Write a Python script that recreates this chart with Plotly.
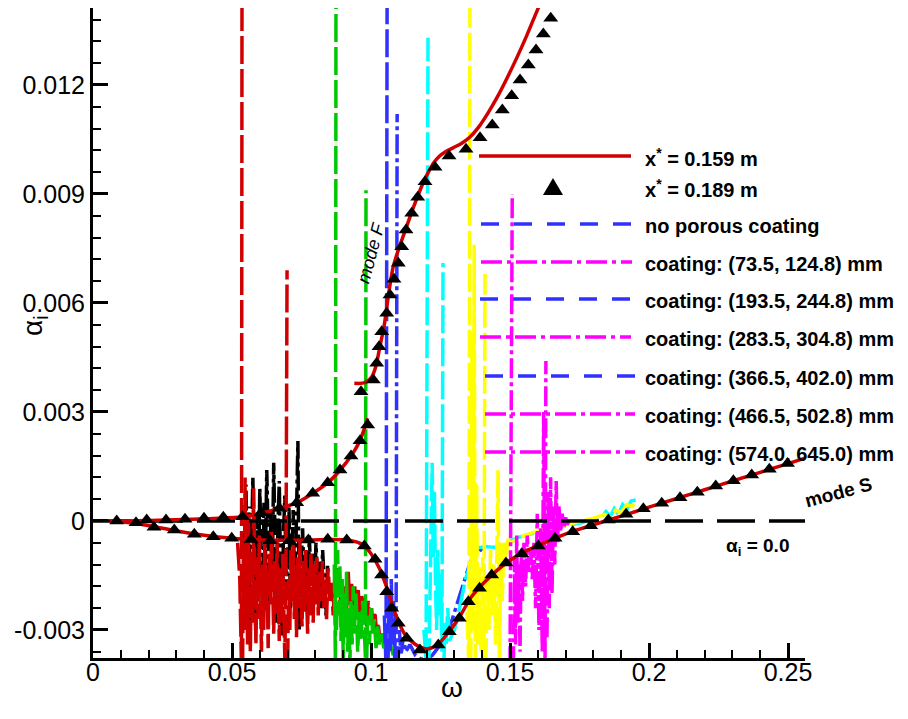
import plotly.graph_objects as go

# ---------------- axis ticks ----------------
x_ticks = [0, 0.05, 0.1, 0.15, 0.2, 0.25]
x_tick_labels = ["0", "0.05", "0.1", "0.15", "0.2", "0.25"]
y_ticks = [-0.003, 0, 0.003, 0.006, 0.009, 0.012]
y_tick_labels = ["-0.003", "0", "0.003", "0.006", "0.009", "0.012"]
x_range = [0, 0.2561]
y_range = [-0.003771, 0.014119]

# ---------------- x* = 0.159 m (solid red) ----------------
modeS_w = [0.006, 0.015, 0.025, 0.035, 0.045, 0.055, 0.065, 0.075, 0.085, 0.092,
           0.097, 0.100, 0.103, 0.106, 0.109, 0.112, 0.116, 0.120, 0.124, 0.128,
           0.132, 0.136, 0.140, 0.145, 0.150, 0.155, 0.160, 0.166, 0.172, 0.179,
           0.185, 0.192, 0.200, 0.210, 0.220, 0.230, 0.240, 0.250, 0.2561]
modeS_a = [0.0, -0.00006, -0.0002, -0.00034, -0.00044, -0.0005, -0.00053, -0.00053, -0.00051, -0.00053,
           -0.00065, -0.0009, -0.0013, -0.0019, -0.0026, -0.0031, -0.0034, -0.00352, -0.0034, -0.00305,
           -0.00262, -0.0021, -0.00175, -0.00138, -0.00108, -0.00085, -0.00068, -0.00048, -0.0003, -0.00013,
           0.00002, 0.00018, 0.00038, 0.00062, 0.00086, 0.0011, 0.00134, 0.00158, 0.00173]

modeF_low_w = [0.0061, 0.0205, 0.0385, 0.0529, 0.0608, 0.0673, 0.0734, 0.0791, 0.0845, 0.0889,
               0.0928, 0.0960, 0.0988]
modeF_low_a = [0.0, 0.000014, 0.000055, 0.00011, 0.00022, 0.00035, 0.000504, 0.000762, 0.001054, 0.001404,
               0.001789, 0.00221, 0.002826]

modeF_high_w = [0.0940, 0.0978, 0.1003, 0.1017, 0.1032, 0.1047, 0.1080, 0.1128, 0.1160, 0.1185,
                0.1205, 0.1225, 0.1245, 0.1268, 0.1295, 0.1325, 0.1355, 0.1385, 0.1420, 0.1455,
                0.1490, 0.1525, 0.1560, 0.1595, 0.1620]
modeF_high_a = [0.00379, 0.003806, 0.003972, 0.004247, 0.004797, 0.005367, 0.006999, 0.0081, 0.00878, 0.00926,
                0.00958, 0.00985, 0.01003, 0.01016, 0.01027, 0.01039, 0.01056, 0.01082, 0.01122, 0.01168,
                0.01220, 0.01276, 0.01336, 0.01400, 0.01445]

# ---------------- x* = 0.189 m (triangles) ----------------
tri_w = [0.00853, 0.01547, 0.02194, 0.02924, 0.03644, 0.04327, 0.04989, 0.05683, 0.06367, 0.07061,
         0.07745, 0.08442, 0.09126, 0.09759, 0.10144, 0.10378, 0.10565, 0.10745, 0.10982, 0.11284,
         0.11763, 0.12421, 0.12817, 0.13176, 0.13500, 0.13903, 0.14342, 0.14856, 0.15421, 0.16018,
         0.16619, 0.17255, 0.17903, 0.18536, 0.19173, 0.19795, 0.20457, 0.21115, 0.21737, 0.22399,
         0.23033, 0.23694, 0.24327, 0.24982,
         0.01932, 0.02626, 0.03309, 0.03993, 0.04687, 0.05378, 0.06043, 0.06701, 0.07327, 0.07903,
         0.08442, 0.08885, 0.09281, 0.09604, 0.09881,
         0.09640, 0.10083, 0.10205, 0.10288, 0.10385, 0.10565, 0.10683, 0.10827, 0.10982, 0.11104,
         0.11259, 0.11464, 0.11680, 0.11942, 0.12302, 0.12806, 0.13417, 0.13921, 0.14363, 0.14723,
         0.15061, 0.15360, 0.15658, 0.15935, 0.16198, 0.16464]
tri_a = [0.0, -0.000047, -0.000173, -0.000248, -0.000366, -0.000432, -0.000476, -0.000509, -0.000542, -0.000542,
         -0.000523, -0.000504, -0.000523, -0.000688, -0.001054, -0.001486, -0.001946, -0.002403, -0.002816, -0.003229,
         -0.00355, -0.003413, -0.003047, -0.002678, -0.002221, -0.001852, -0.001486, -0.001156, -0.0009, -0.000688,
         -0.000476, -0.000294, -0.000129, 0.000028, 0.000184, 0.000336, 0.000487, 0.000641, 0.00079, 0.000963,
         0.001109, 0.001266, 0.001423, 0.001583,
         0.000028, 0.000028, 0.000047, 0.000074, 0.000102, 0.000118, 0.000228, 0.00035, 0.000504, 0.000762,
         0.001054, 0.001404, 0.001789, 0.00221, 0.002642,
         0.003559, 0.003881, 0.00434, 0.004797, 0.00521, 0.005717, 0.00622, 0.006652, 0.007093, 0.00755,
         0.008009, 0.008469, 0.008909, 0.009339, 0.009735, 0.010046, 0.01023, 0.01055, 0.010899, 0.011312,
         0.011706, 0.012138, 0.01255, 0.012963, 0.013404, 0.013836]

# ---------------- alpha_i = 0.0 ----------------
zero_w = [0.0, 0.2561]
zero_a = [0.0, 0.0]

# ---------------- noisy porous-coating results (None = curve leaves the frame) ----------------
red_noise_w = [0.0520, 0.0528, 0.0534, 0.0536, None, 0.0538, 0.0541, 0.0544, 0.0547, 0.0550, 0.0553,
               0.0556, 0.0559, 0.0562, 0.0566, 0.0570, 0.0574, 0.0578, 0.0582, 0.0586, 0.0590,
               0.0594, 0.0598, 0.0602, 0.0606, 0.0610, 0.0614, 0.0618, 0.0622, 0.0626, 0.0630,
               0.0634, 0.0638, 0.0642, 0.0646, 0.0650, 0.0654, 0.0658, 0.0662, 0.0666, 0.0670,
               0.0674, 0.0678, 0.0682, 0.0686, 0.0690, 0.0694, 0.0698, None, 0.0700, 0.0704, 0.0708,
               0.0712, 0.0716, 0.0720, 0.0724, 0.0728, 0.0732, 0.0736, 0.0740, 0.0744, 0.0748,
               0.0752, 0.0756, 0.0760, 0.0764, 0.0768, 0.0772, 0.0776, 0.0780, 0.0784, 0.0788,
               0.0792, 0.0796, 0.0800, 0.0805, 0.0810, 0.0815, 0.0820, 0.0825, 0.0830, 0.0835,
               0.0840, 0.0846, 0.0852, 0.0858, 0.0864, 0.0870, 0.0876, 0.0882, 0.0888, 0.0894,
               0.0900, 0.0906, 0.0912, 0.0918, 0.0924, 0.0930, 0.0936, 0.0942, 0.0948, 0.0954,
               0.0960, 0.0966, 0.0972, 0.0978, 0.0984, 0.0990, 0.0996, 0.1002, 0.1008, 0.1014,
               0.1020, 0.1026, 0.1032, 0.1040, 0.1048, 0.1056, 0.1065]
red_noise_a = [-0.0006, -0.0016, -0.0040, 0.0150, None, -0.0040, -0.0008, -0.0026, 0.0012, -0.0030, -0.0012,
               -0.0034, 0.0002, -0.0022, -0.0036, -0.0008, -0.0028, 0.0009, -0.0018, -0.0034, -0.0010,
               -0.0027, -0.0004, -0.0021, -0.0036, -0.0012, -0.0030, -0.0006, -0.0025, -0.0014, -0.0035,
               -0.0009, -0.0023, -0.0003, -0.0019, -0.0031, -0.0011, -0.0026, -0.0005, -0.0021, -0.0033,
               -0.0013, -0.0028, -0.0009, -0.0024, -0.0038, -0.0015, 0.0069, None, -0.0040, -0.0016, -0.0030,
               -0.0008, -0.0022, -0.0006, -0.0027, -0.0012, -0.0032, -0.0010, -0.0024, -0.0005, -0.0019,
               -0.0029, -0.0011, -0.0025, -0.0008, -0.0021, -0.0031, -0.0013, -0.0026, -0.0009, -0.0020,
               -0.0028, -0.0012, -0.0023, -0.0010, -0.0026, -0.0014, -0.0022, -0.0011, -0.0024, -0.0016,
               -0.0027, -0.0013, -0.0022, -0.0017, -0.0026, -0.0015, -0.0021, -0.0013, -0.0024, -0.0016,
               -0.0027, -0.0018, -0.0025, -0.0014, -0.0023, -0.0017, -0.0026, -0.0018, -0.0024, -0.0019,
               -0.0028, -0.0020, -0.0026, -0.0021, -0.0029, -0.0022, -0.0027, -0.0024, -0.0030, -0.0025,
               -0.0031, -0.0028, -0.0033, -0.0031, -0.0034, -0.0033, -0.0035]

black_noise_w = [0.0545, 0.0550, 0.0555, 0.0560, 0.0565, 0.0570, 0.0575, 0.0580, 0.0585, 0.0590,
                 0.0595, 0.0600, 0.0605, 0.0610, 0.0615, 0.0620, 0.0625, 0.0630, 0.0635, 0.0640,
                 0.0645, 0.0650, 0.0655, 0.0660, 0.0665, 0.0670, 0.0675, 0.0680, 0.0685, 0.0690,
                 0.0695, 0.0700, 0.0705, 0.0710, 0.0715, 0.0720, 0.0725, 0.0730, 0.0737, 0.0742,
                 0.0748, 0.0754, 0.0760, 0.0766, 0.0772, 0.0778, 0.0784, 0.0790, 0.0796, 0.0802,
                 0.0808, 0.0814, 0.0820, 0.0826, 0.0832, 0.0838, 0.0844]
black_noise_a = [-0.0006, 0.0010, -0.0015, 0.0004, -0.0028, -0.0002, 0.0012, -0.0010, -0.0030, 0.0002,
                 -0.0018, 0.0009, -0.0008, -0.0026, 0.0005, -0.0012, 0.0014, -0.0004, -0.0022, 0.0003,
                 -0.0014, 0.0016, -0.0006, -0.0028, -0.0002, 0.0011, -0.0016, -0.0032, -0.0004, 0.0007,
                 -0.0020, -0.0008, 0.0004, -0.0024, -0.0010, 0.0003, -0.0018, -0.0006, 0.0022, -0.0030,
                 -0.0012, -0.0002, -0.0020, -0.0008, -0.0026, -0.0004, -0.0016, -0.0009, -0.0022, -0.0006,
                 -0.0018, -0.0011, -0.0024, -0.0008, -0.0017, -0.0026, -0.0012]

green_noise_w = [0.0868, 0.0872, 0.0874, None, 0.0876, 0.0880, 0.0884, 0.0888, 0.0892, 0.0896, 0.0900,
                 0.0904, 0.0908, 0.0912, 0.0916, 0.0920, 0.0924, 0.0928, 0.0932, 0.0936, 0.0940,
                 0.0946, 0.0952, 0.0958, 0.0964, 0.0970, 0.0976, 0.0980, 0.0982, None, 0.0984, 0.0988,
                 0.0994, 0.1000, 0.1006, 0.1012, 0.1018, 0.1024, 0.1030, 0.1038, 0.1046, 0.1054,
                 0.1062, 0.1070, 0.1080]
green_noise_a = [-0.0012, -0.0040, 0.0150, None, -0.0030, -0.0008, -0.0026, -0.0012, -0.0033, -0.0016, -0.0038,
                 -0.0020, -0.0032, -0.0014, -0.0036, -0.0024, -0.0040, -0.0022, -0.0034, -0.0018, -0.0031,
                 -0.0020, -0.0036, -0.0025, -0.0033, -0.0022, -0.0030, -0.0038, 0.0091, None, -0.0040, -0.0026,
                 -0.0034, -0.0024, -0.0031, -0.0027, -0.0035, -0.0029, -0.0034, -0.0031, -0.0035, -0.0033,
                 -0.0036, -0.0034, -0.0037]

blue_dash_w = [0.1048, 0.1054, 0.1058, None, 0.1061, 0.1065, 0.1069, 0.1073, 0.1077, 0.1081, 0.1085,
               0.1089]
blue_dash_a = [-0.0026, -0.0040, 0.0150, None, -0.0040, -0.0020, -0.0036, -0.0016, -0.0034, -0.0022, -0.0038,
               -0.0026]
blue_dot_w = [0.1090, 0.1094, None, 0.1097, 0.1102, 0.1108, 0.1116, 0.1125, 0.1140, 0.1160, 0.1180,
              0.1200, 0.1220, 0.1240, 0.1260, 0.1280, 0.1300, 0.1320, 0.1335, 0.1350, 0.1365,
              0.1380, 0.1395, 0.1410]
blue_dot_a = [-0.0040, 0.0112, None, -0.0040, -0.0030, -0.0037, -0.0032, -0.0036, -0.0034, -0.0037, -0.0038,
              -0.0038, -0.0037, -0.0035, -0.0033, -0.0030, -0.0025, -0.0020, -0.0017, -0.0013, -0.0010,
              -0.0007, -0.0008, -0.0007]

cyan_noise_w = [0.1190, 0.1198, 0.1205, None, 0.1208, 0.1212, 0.1216, 0.1220, 0.1224, 0.1228, 0.1232,
                0.1236, 0.1240, 0.1245, 0.1250, 0.1255, 0.1259, None, 0.1262, 0.1266, 0.1270, 0.1276,
                0.1282, 0.1300, 0.1310, 0.1340, 0.1365, 0.1380, 0.1410, 0.1440, 0.1470, 0.1500,
                0.1530, 0.1560, 0.1600, 0.1640, 0.1680, 0.1720, 0.1760, 0.1800, 0.1830, 0.1845,
                0.1860, 0.1875, 0.1890, 0.1905, 0.1920, 0.1935, 0.1955]
cyan_noise_a = [-0.0030, -0.0038, 0.0133, None, -0.0040, -0.0022, -0.0012, 0.0016, -0.0010, 0.0008, -0.0018,
                -0.0030, -0.0008, -0.0026, -0.0014, -0.0036, 0.0071, None, -0.0040, -0.0028, -0.0034, -0.0024,
                -0.0033, -0.0030, -0.0027, -0.0016, -0.0010, -0.00075, -0.0007, -0.00072, -0.0007, -0.00055,
                -0.00045, -0.00038, -0.0003, -0.00022, -0.00016, -0.0001, -0.00004, 0.00006, 0.0001, 0.00026,
                0.00012, 0.00034, 0.00018, 0.00045, 0.0003, 0.00055, 0.00058]

yellow_noise_w = [0.1345, 0.1352, 0.1356, None, 0.1359, 0.1363, 0.1367, 0.1371, 0.1375, 0.1380, 0.1384,
                  0.1390, 0.1396, 0.1402, 0.1406, 0.1410, None, 0.1413, 0.1418, 0.1424, 0.1430, 0.1436,
                  0.1442, 0.1448, 0.1452, 0.1457, 0.1462, 0.1467, 0.1472, 0.1478, 0.1485, 0.1492,
                  0.1500, 0.1550, 0.1600, 0.1650, 0.1700, 0.1750, 0.1800, 0.1840, 0.1860, 0.1880,
                  0.1900, 0.1920, 0.1940, 0.1950]
yellow_noise_a = [-0.0025, -0.0040, 0.0150, None, -0.0040, 0.0052, -0.0030, 0.0076, -0.0038, 0.0010, -0.0034,
                  -0.0012, -0.0036, -0.0010, -0.0040, 0.0068, None, -0.0040, -0.0016, -0.0030, -0.0008, -0.0026,
                  -0.0012, -0.0034, -0.0005, 0.0014, -0.0040, -0.0006, -0.0022, -0.0006, -0.0012, -0.0005,
                  -0.0006, -0.0004, -0.00028, -0.0002, -0.00012, -0.00002, 0.00008, 0.00018, 0.0001, 0.0003,
                  0.00022, 0.00045, 0.0004, 0.0005]

magenta_noise_w = [0.1500, 0.1508, None, 0.1512, 0.1516, 0.1520, 0.1524, 0.1528, 0.1532, 0.1536, 0.1540,
                   0.1545, 0.1550, 0.1556, 0.1562, 0.1568, 0.1574, 0.1580, 0.1586, 0.1592, 0.1598,
                   0.1604, 0.1610, 0.1616, 0.1621, 0.1626, 0.1629, None, 0.1633, 0.1637, 0.1641, 0.1646,
                   0.1651, 0.1656, 0.1661, 0.1666, 0.1671, 0.1676, 0.1682, 0.1688, 0.1694, 0.1700,
                   0.1706, 0.1712]
magenta_noise_a = [-0.0040, 0.0090, None, -0.0040, -0.0010, -0.0034, -0.0004, -0.0028, -0.0012, -0.0036, -0.0008,
                   -0.0022, -0.0006, -0.0018, -0.0004, -0.0014, -0.0008, -0.0016, -0.0006, -0.0024, 0.0002,
                   -0.0030, -0.0002, -0.0036, 0.0030, -0.0038, 0.0044, None, -0.0032, 0.0008, -0.0024, 0.0012,
                   -0.0020, 0.0004, -0.0012, 0.0011, -0.0006, 0.0004, -0.0003, 0.0002, -0.0002, 0.0001,
                   -0.0001, 0.0]

# ---------------- legend ----------------
legend_labels = ["x<sup>*</sup> = 0.159 m", "x<sup>*</sup> = 0.189 m", "no porous coating",
                 "coating: (73.5, 124.8) mm", "coating: (193.5, 244.8) mm",
                 "coating: (283.5, 304.8) mm", "coating: (366.5, 402.0) mm",
                 "coating: (466.5, 502.8) mm", "coating: (574.0, 645.0) mm"]
legend_colors = ["#d00000", "black", "#3030ff", "#ff00ff", "#3030ff", "#ff00ff", "#3030ff", "#ff00ff", "#ff00ff"]
legend_dash = ["solid", None, "18px,15px", "21px,5px,4px,5px", "18px,15px", "21px,5px,4px,5px",
               "18px,15px", "21px,5px,4px,5px", "21px,5px,4px,5px"]
legend_row_y = [156, 187, 224, 262, 299, 337, 376, 414, 452]
legend_line_x = [(479, 631), None, (481, 632), (481, 632), (480, 631), (480, 631),
                 (485, 635), (485, 635), (485, 635)]

RED = "#d00000"
DASH = "28px,5px"
DASHDOT = "20px,4px,4px,4px"

fig = go.Figure()


def noisy(w, a, color, dash, width=3.5):
    fig.add_trace(go.Scatter(x=w, y=a, mode="lines", showlegend=False, hoverinfo="skip",
                             connectgaps=False,
                             line=dict(color=color, width=width, dash=dash)))


noisy(black_noise_w, black_noise_a, "black", DASHDOT)
noisy(red_noise_w, red_noise_a, RED, DASH)
noisy(green_noise_w, green_noise_a, "#00c800", DASH)
noisy(blue_dash_w, blue_dash_a, "#3030ff", DASH)
noisy(blue_dot_w, blue_dot_a, "#3030ff", DASHDOT)
noisy(cyan_noise_w, cyan_noise_a, "#00ffff", DASH)
noisy(yellow_noise_w, yellow_noise_a, "#ffff00", DASH)
noisy(magenta_noise_w, magenta_noise_a, "#ff00ff", DASHDOT)

fig.add_trace(go.Scatter(x=zero_w, y=zero_a, mode="lines", showlegend=False,
                         line=dict(color="black", width=3.5, dash="38px,14px")))

for w, a in [(modeS_w, modeS_a), (modeF_low_w, modeF_low_a), (modeF_high_w, modeF_high_a)]:
    fig.add_trace(go.Scatter(x=w, y=a, mode="lines", showlegend=False,
                             line=dict(color=RED, width=3.5, shape="spline", smoothing=0.8)))

fig.add_trace(go.Scatter(x=tri_w, y=tri_a, mode="markers", showlegend=False,
                         marker=dict(symbol="triangle-up", size=13, color="black",
                                     line=dict(width=0))))

# ---------------- layout ----------------
PL, PR, PT, PB = 93, 805, 8, 658
W, H = 908, 719


def pxx(v):
    return (v - PL) / (PR - PL)


def pxy(v):
    return (PB - v) / (PB - PT)


FONT = "Liberation Sans, Arial, sans-serif"
shapes = []
annotations = []
for i, lab in enumerate(legend_labels):
    yy = legend_row_y[i]
    if legend_line_x[i] is not None:
        x0, x1 = legend_line_x[i]
        shapes.append(dict(type="line", xref="paper", yref="paper",
                           x0=pxx(x0), x1=pxx(x1), y0=pxy(yy), y1=pxy(yy),
                           line=dict(color=legend_colors[i], width=3.5, dash=legend_dash[i])))
    else:
        cx = 553
        shapes.append(dict(type="path", xref="paper", yref="paper",
                           path=f"M{pxx(cx)},{pxy(yy - 9)} L{pxx(cx - 10)},{pxy(yy + 8)} L{pxx(cx + 10)},{pxy(yy + 8)} Z",
                           fillcolor="black", line=dict(width=0)))
    annotations.append(dict(xref="paper", yref="paper", x=pxx(643), y=pxy(yy + 2),
                            xanchor="left", yanchor="middle", showarrow=False,
                            text=f"<b>{lab}</b>", font=dict(family=FONT, size=20, color="black")))

annotations += [
    dict(xref="paper", yref="paper", x=pxx(452), y=pxy(687), text="ω", showarrow=False,
         xanchor="center", yanchor="middle", font=dict(family=FONT, size=28, color="black")),
    dict(xref="paper", yref="paper", x=pxx(34), y=pxy(326), text="α<sub>i</sub>", showarrow=False,
         textangle=-90, xanchor="center", yanchor="middle", font=dict(family=FONT, size=28, color="black")),
    dict(xref="paper", yref="paper", x=pxx(371), y=pxy(253), text="<i>mode F</i>", showarrow=False,
         textangle=-75, xanchor="center", yanchor="middle", font=dict(family=FONT, size=18, color="black")),
    dict(xref="paper", yref="paper", x=pxx(838), y=pxy(492), text="<b>mode S</b>", showarrow=False,
         textangle=-15, xanchor="center", yanchor="middle", font=dict(family=FONT, size=19, color="black")),
    dict(xref="paper", yref="paper", x=pxx(757), y=pxy(547), text="<b>α<sub>i</sub> = 0.0</b>", showarrow=False,
         xanchor="center", yanchor="middle", font=dict(family=FONT, size=19, color="black")),
]

axis_common = dict(showline=True, linewidth=3, linecolor="black", mirror=False,
                   showgrid=False, zeroline=False, ticks="inside", ticklen=15, tickwidth=3,
                   tickcolor="black", tickfont=dict(family=FONT, size=25, color="black"))

fig.update_layout(
    width=W, height=H,
    margin=dict(l=PL, r=W - PR, t=PT, b=H - PB, pad=0),
    paper_bgcolor="white", plot_bgcolor="white",
    showlegend=False,
    xaxis=dict(range=x_range, tickmode="array", tickvals=x_ticks, ticktext=x_tick_labels,
               ticklabelposition="outside", ticklabelstandoff=-10,
               minor=dict(ticks="inside", ticklen=8, tickwidth=1.5, tickcolor="black",
                          tickmode="linear", tick0=0, dtick=0.01),
               **axis_common),
    yaxis=dict(range=y_range, tickmode="array", tickvals=y_ticks, ticktext=y_tick_labels,
               minor=dict(ticks="inside", ticklen=8, tickwidth=1.5, tickcolor="black",
                          tickmode="linear", tick0=0, dtick=0.0006),
               **axis_common),
    shapes=shapes,
    annotations=annotations,
)

fig.write_html("out.html")
